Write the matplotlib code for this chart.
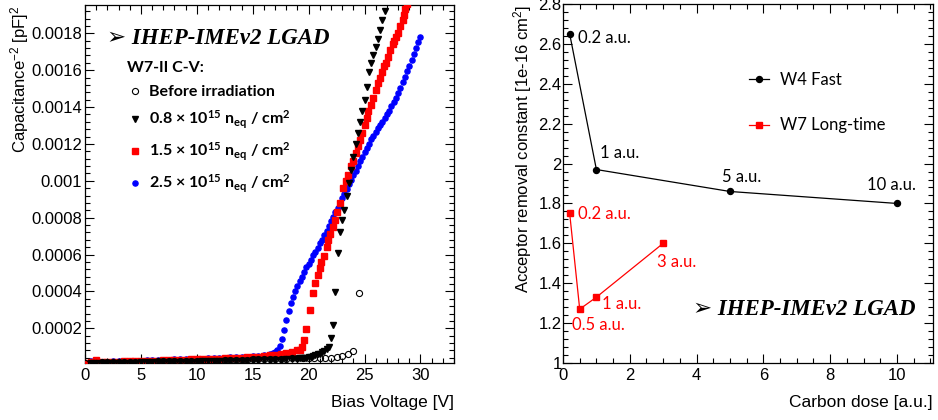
import matplotlib
matplotlib.use("Agg")
import matplotlib.pyplot as plt
from matplotlib.ticker import MultipleLocator, FuncFormatter

plt.rcParams["font.family"] = ["Liberation Sans", "DejaVu Sans"]
plt.rcParams["mathtext.fontset"] = "custom"
plt.rcParams["mathtext.rm"] = "Lato:bold"
plt.rcParams["mathtext.bf"] = "Lato:bold"
plt.rcParams["mathtext.it"] = "Lato:bold:italic"
plt.rcParams["mathtext.sf"] = "Liberation Sans"

# C^-2 values are stored in units of 1e-5 pF^-2
C2_UNIT = 1e-5

# before irradiation
v_pre = [0.0, 0.5, 1.0, 1.5, 2.0, 2.5, 3.0, 3.5, 4.0, 4.5, 5.0, 5.5, 6.0, 6.5, 7.0, 7.5,
         8.0, 8.5, 9.0, 9.5, 10.0, 10.5, 11.0, 11.5, 12.0, 12.5, 13.0, 13.5, 14.0, 14.5,
         15.0, 15.5, 16.0, 16.5, 17.0, 17.5, 18.0, 18.5, 19.0, 19.5, 20.0, 20.5, 21.0,
         21.5, 22.0, 22.5, 23.0, 23.5, 24.0, 24.5]
c2_pre = [1.2, 1.3, 1.4, 1.5, 1.5, 1.6, 1.6, 1.7, 1.7, 1.8, 1.8, 1.9, 1.9, 2.0, 2.0, 2.1,
          2.1, 2.2, 2.2, 2.3, 2.3, 2.4, 2.4, 2.5, 2.5, 2.6, 2.7, 2.8, 2.9, 3.0,
          3.1, 3.2, 3.3, 3.3, 3.4, 3.5, 3.6, 3.7, 3.7, 3.8, 3.8, 3.9, 4.0,
          4.0, 4.1, 4.4, 4.9, 5.8, 7.8, 39.4]

# 0.8e15 neq/cm2
v_08 = [0.5, 1.0, 1.5, 2.0, 2.5, 3.0, 3.5, 4.0, 4.5, 5.0, 5.5, 6.0, 6.5, 7.0, 7.5, 8.0,
        8.5, 9.0, 9.5, 10.0, 10.5, 11.0, 11.5, 12.0, 12.5, 13.0, 13.5, 14.0, 14.5, 15.0,
        15.5, 16.0, 16.5, 17.0, 17.5, 18.0, 18.5, 19.0, 19.2, 19.4, 19.6, 19.8, 20.0,
        20.2, 20.4, 20.6, 20.8, 21.0, 21.2, 21.4, 21.6, 21.8, 22.0, 22.2, 22.4, 22.6,
        22.8, 23.0, 23.2, 23.4, 23.6, 23.8, 24.0, 24.2, 24.4, 24.6, 24.8, 25.0, 25.2,
        25.4, 25.6, 25.8, 26.0, 26.2, 26.4, 26.6, 26.8]
c2_08 = [1.1, 1.1, 1.2, 1.2, 1.3, 1.3, 1.3, 1.4, 1.4, 1.5, 1.5, 1.5, 1.6, 1.6, 1.7, 1.7,
         1.8, 1.8, 1.9, 1.9, 2.0, 2.0, 2.1, 2.2, 2.2, 2.3, 2.3, 2.4, 2.5, 2.6,
         2.6, 2.7, 2.8, 2.9, 3.0, 3.2, 3.4, 3.6, 3.7, 3.8, 3.9, 4.1, 4.3,
         4.6, 4.9, 5.3, 5.8, 6.3, 6.9, 7.7, 8.6, 9.7, 14.6, 21.7, 39.7, 61.0,
         72.0, 79.0, 84.0, 92.0, 99.0, 106.0, 113.0, 120.0, 126.0, 132.0, 138.0, 144.0, 151.0,
         159.0, 164.0, 168.0, 172.5, 177.0, 182.0, 187.0, 192.0]

# 1.5e15 neq/cm2
v_15 = [0.0, 0.5, 1.0, 1.5, 2.0, 2.5, 3.0, 3.5, 4.0, 4.5, 5.0, 5.5, 6.0, 6.5, 7.0, 7.5,
        8.0, 8.5, 9.0, 9.5, 10.0, 10.5, 11.0, 11.5, 12.0, 12.5, 13.0, 13.5, 14.0, 14.5,
        15.0, 15.5, 16.0, 16.5, 17.0, 17.5, 18.0, 18.5, 19.0, 19.2, 19.4, 19.6, 19.8,
        20.1, 20.35, 20.6, 20.8, 21.0, 21.15, 21.35, 21.6, 21.75, 21.9, 22.2, 22.4,
        22.55, 22.8, 23.05, 23.3, 23.55, 23.8, 23.95, 24.2, 24.4, 24.55, 24.8, 25.0,
        25.2, 25.35, 25.6, 25.8, 26.0, 26.2, 26.4, 26.55, 26.7, 26.9, 27.1, 27.3, 27.5,
        27.65, 27.8, 28.0, 28.2, 28.4, 28.5, 28.65, 28.8]
c2_15 = [1.0, 1.5, 2.8, 1.6, 1.7, 1.8, 1.9, 2.0, 2.1, 2.2, 2.3, 2.4, 2.5, 2.5, 2.6, 2.7,
         2.8, 2.9, 3.0, 3.1, 3.2, 3.3, 3.4, 3.5, 3.6, 3.7, 3.8, 3.9, 4.1, 4.3,
         4.5, 4.7, 5.0, 5.3, 5.7, 6.1, 6.6, 7.2, 8.0, 8.5, 10.0, 13.6, 19.5,
         29.8, 39.0, 44.7, 48.8, 52.5, 56.0, 59.0, 64.0, 68.0, 71.0, 75.0, 79.0,
         83.0, 88.0, 96.0, 100.0, 103.0, 108.0, 111.0, 115.0, 119.0, 122.0, 126.0, 130.0,
         134.0, 138.0, 141.0, 145.0, 149.0, 153.0, 156.0, 159.0, 162.0, 164.0, 167.0, 171.0, 174.0,
         176.0, 178.0, 180.0, 184.0, 187.0, 190.0, 193.0, 196.0]

# 2.5e15 neq/cm2
v_25 = [0.5, 1.0, 1.5, 2.0, 2.5, 3.0, 3.5, 4.0, 4.5, 5.0, 5.5, 6.0, 6.5, 7.0, 7.5, 8.0,
        8.5, 9.0, 9.5, 10.0, 10.5, 11.0, 11.5, 12.0, 12.5, 13.0, 13.5, 14.0, 14.5, 15.0,
        15.5, 16.0, 16.5, 16.8, 17.0, 17.2, 17.4, 17.6, 17.8, 18.0, 18.2, 18.4, 18.6,
        18.8, 19.0, 19.2, 19.4, 19.6, 19.8, 20.0, 20.2, 20.4, 20.6, 20.8, 21.0, 21.2,
        21.4, 21.6, 21.8, 22.0, 22.2, 22.4, 22.6, 22.8, 23.0, 23.2, 23.4, 23.6, 23.8,
        24.0, 24.2, 24.4, 24.6, 24.8, 25.0, 25.2, 25.4, 25.6, 25.8, 26.0, 26.2, 26.4,
        26.6, 26.8, 27.0, 27.2, 27.4, 27.6, 27.8, 28.0, 28.2, 28.4, 28.6, 28.8, 29.0,
        29.2, 29.4, 29.6, 29.8, 30.0]
c2_25 = [2.3, 1.7, 1.8, 1.9, 2.0, 2.1, 2.2, 2.3, 2.4, 2.5, 2.6, 2.7, 2.8, 2.9, 3.0, 3.1,
         3.2, 3.3, 3.4, 3.5, 3.6, 3.7, 3.8, 3.9, 4.0, 4.2, 4.3, 4.5, 4.7, 4.9,
         5.2, 5.6, 6.1, 6.6, 7.2, 8.5, 10.5, 14.0, 19.0, 24.5, 29.5, 33.5, 37.0,
         40.0, 43.0, 45.5, 48.0, 50.5, 53.0, 55.0, 57.0, 59.5, 61.5, 63.5, 66.0, 68.0,
         70.5, 73.0, 75.5, 78.0, 80.5, 83.0, 85.5, 88.0, 90.5, 93.0, 95.5, 98.0, 100.5,
         103.0, 105.5, 108.0, 110.5, 113.0, 115.5, 118.0, 120.0, 122.5, 124.5, 126.5, 128.5, 130.0,
         132.0, 134.0, 136.0, 138.0, 140.5, 142.5, 145.0, 147.5, 150.5, 153.5, 156.5, 159.5, 162.5,
         165.5, 169.0, 172.0, 175.0, 178.0]

# acceptor removal constant vs carbon dose
dose_w4 = [0.2, 1, 5, 10]
arc_w4 = [2.65, 1.97, 1.86, 1.80]
lab_w4 = ["0.2 a.u.", "1 a.u.", "5 a.u.", "10 a.u."]
dose_w7 = [0.2, 0.5, 1, 3]
arc_w7 = [1.75, 1.27, 1.33, 1.60]
lab_w7 = ["0.2 a.u.", "0.5 a.u.", "1 a.u.", "3 a.u."]

W, H = 938, 420
fig = plt.figure(figsize=(W / 100, H / 100), dpi=100)
fig.patch.set_facecolor("white")

ax1 = fig.add_axes([85 / W, 1 - 363 / H, 369 / W, 358.3 / H])
ax2 = fig.add_axes([563 / W, 1 - 363 / H, 370 / W, 359 / H])


def root_style(ax):
    ax.tick_params(which="both", direction="in", top=True, right=True,
                   labelsize=12, width=0.8, colors="black")
    ax.tick_params(which="major", length=6.5)
    ax.tick_params(which="minor", length=3.3)
    for sp in ax.spines.values():
        sp.set_linewidth(0.9)


def gfmt(v, pos):
    return "%g" % round(v, 6)


# ---- left: C^-2 vs bias ----
s = lambda vals: [c * C2_UNIT for c in vals]
h25, = ax1.plot(v_25, s(c2_25), ls="none", marker="o", ms=3.7, mfc="#0000ff", mec="#0000ff",
                zorder=2)
h15, = ax1.plot(v_15, s(c2_15), ls="none", marker="s", ms=4.6, mfc="#ff0000", mec="#ff0000",
                zorder=3)
h08, = ax1.plot(v_08, s(c2_08), ls="none", marker="v", ms=4.3, mfc="black", mec="black",
                zorder=4)
hpre, = ax1.plot(v_pre, s(c2_pre), ls="none", marker="o", ms=4.4, mfc="none", mec="black",
                 mew=0.8, zorder=5)

ax1.set_xlim(0, 33)
ax1.set_ylim(1.18e-5, 0.001955)
ax1.xaxis.set_major_locator(MultipleLocator(5))
ax1.xaxis.set_minor_locator(MultipleLocator(1))
ax1.yaxis.set_major_locator(MultipleLocator(0.0002))
ax1.yaxis.set_minor_locator(MultipleLocator(0.00004))
ax1.yaxis.set_major_formatter(FuncFormatter(gfmt))
root_style(ax1)
ax1.tick_params(axis="x", pad=3.5)
ax1.tick_params(axis="y", pad=2)

ax1.text(0.06, 0.905, "➢ IHEP-IMEv2 LGAD", transform=ax1.transAxes,
         family=["Liberation Serif", "DejaVu Sans"], style="italic", weight="bold",
         fontsize=16.5, va="center", ha="left")
ax1.text(0.114, 0.822, "W7-II C-V:", transform=ax1.transAxes, family="Lato",
         weight="bold", fontsize=11.5, va="center", ha="left")

leg_labels = ["Before irradiation",
              "0.8 × 10$^{\\mathrm{15}}$ n$_{\\mathrm{eq}}$ / cm$^{\\mathrm{2}}$",
              "1.5 × 10$^{\\mathrm{15}}$ n$_{\\mathrm{eq}}$ / cm$^{\\mathrm{2}}$",
              "2.5 × 10$^{\\mathrm{15}}$ n$_{\\mathrm{eq}}$ / cm$^{\\mathrm{2}}$"]
leg1 = ax1.legend([hpre, h08, h15, h25], leg_labels, loc="upper left",
                  bbox_to_anchor=(0.114, 0.775), frameon=False, borderpad=0, borderaxespad=0,
                  handlelength=1.0, handletextpad=0.4, labelspacing=0.6, numpoints=1,
                  prop={"family": "Lato", "weight": "bold", "size": 11.5})

# ---- right: acceptor removal constant ----
hw4, = ax2.plot(dose_w4, arc_w4, color="black", lw=0.9, marker="o", ms=4.3, zorder=3,
                label="W4 Fast")
hw7, = ax2.plot(dose_w7, arc_w7, color="#ff0000", lw=0.9, marker="s", ms=5.0, zorder=3,
                label="W7 Long-time")

ax2.set_xlim(0, 11.08)
ax2.set_ylim(1, 2.8)
ax2.xaxis.set_major_locator(MultipleLocator(2))
ax2.xaxis.set_minor_locator(MultipleLocator(0.5))
ax2.yaxis.set_major_locator(MultipleLocator(0.2))
ax2.yaxis.set_minor_locator(MultipleLocator(0.04))
ax2.yaxis.set_major_formatter(FuncFormatter(gfmt))
root_style(ax2)
ax2.tick_params(axis="x", pad=3.5)
ax2.tick_params(axis="y", pad=1)

# dose labels next to each point
w4_off = [(0.25, -0.02), (0.11, 0.085), (-0.23, 0.075), (-0.91, 0.093)]
w7_off = [(0.25, -0.004), (-0.24, -0.08), (0.16, -0.034), (-0.18, -0.092)]
for x, y, t, (dx, dy) in zip(dose_w4, arc_w4, lab_w4, w4_off):
    ax2.text(x + dx, y + dy, t, family="Lato", fontsize=12, color="black",
             ha="left", va="center")
for x, y, t, (dx, dy) in zip(dose_w7, arc_w7, lab_w7, w7_off):
    ax2.text(x + dx, y + dy, t, family="Lato", fontsize=12, color="#ff0000",
             ha="left", va="center")

ax2.legend([hw4, hw7], ["W4 Fast", "W7 Long-time"], loc="upper left",
           bbox_to_anchor=(0.503, 0.81), frameon=False, borderpad=0, borderaxespad=0,
           handlelength=1.2, handletextpad=0.65, labelspacing=1.75,
           prop={"family": "Lato", "size": 12})

ax2.text(0.351, 0.149, "➢ IHEP-IMEv2 LGAD", transform=ax2.transAxes,
         family=["Liberation Serif", "DejaVu Sans"], style="italic", weight="bold",
         fontsize=16.5, va="center", ha="left")

# axis titles, ROOT style (right/top aligned)
fig.text(20 / W, 1 - 5 / H, "Capacitance$^{\\mathsf{-2}}$ [pF]$^{\\mathsf{2}}$",
         rotation=90, ha="center", va="top", fontsize=12)
fig.text(454 / W, 1 - 403 / H, "Bias Voltage [V]", ha="right", va="center", fontsize=12.5)
fig.text(523 / W, 1 - 5 / H, "Acceptor removal constant [1e-16 cm$^{\\mathsf{2}}$]",
         rotation=90, ha="center", va="top", fontsize=12)
fig.text(933 / W, 1 - 403 / H, "Carbon dose [a.u.]", ha="right", va="center", fontsize=12.5)

fig.savefig("out.png", dpi=100, facecolor="white")
